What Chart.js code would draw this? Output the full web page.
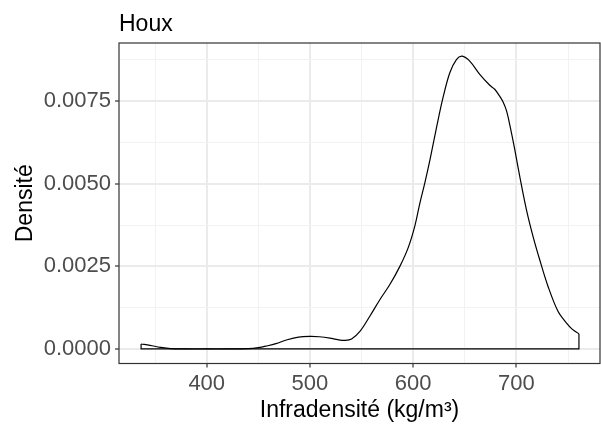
<!DOCTYPE html>
<html><head><meta charset="utf-8">
<script src="https://cdn.jsdelivr.net/npm/chart.js@4.4.0/dist/chart.umd.min.js"></script>
<style>html,body{margin:0;padding:0;background:#fff}#wrap{width:601px;height:426px}</style>
</head><body><div id="wrap"><canvas id="c" width="601" height="426"></canvas></div>
<script>
const chartTitle = "Houx";
const xAxisTitle = "Infradensité (kg/m³)";
const yAxisTitle = "Densité";

const densityX = [336.4, 345, 355, 365, 380, 400, 420, 440, 450, 458, 467, 478, 489, 500, 509, 519.3, 527, 533.8, 540.3, 548.4, 558, 567.7, 577.4, 587.1, 595.1, 601.6, 606.4, 611.3, 616.1, 622.6, 629, 635.5, 641.9, 647.4, 654.8, 664.5, 674.2, 679, 683.8, 687, 690.3, 693.5, 698.4, 703.2, 709.7, 716.1, 722.6, 730.6, 740.3, 748.4, 754, 760.6];
const densityY = [0.00015, 0.00011, 0.00005, 0.00001, 0.0, 0.0, 0.0, 0.00001, 0.00004, 0.00009, 0.00016, 0.00028, 0.00036, 0.00038, 0.00037, 0.00033, 0.00028, 0.00026, 0.0003, 0.00053, 0.00099, 0.00149, 0.00195, 0.0025, 0.00306, 0.00372, 0.0044, 0.00503, 0.0057, 0.0067, 0.00762, 0.00836, 0.00876, 0.00886, 0.00871, 0.00831, 0.00798, 0.00786, 0.00765, 0.00748, 0.00722, 0.0068, 0.00604, 0.00523, 0.00422, 0.00341, 0.0027, 0.0019, 0.00114, 0.00079, 0.0006, 0.00046];

const xMajorTicks = [400, 500, 600, 700];
const xMinorTicks = [350, 450, 550, 650, 750];
const yMajorTicks = [0, 0.0025, 0.005, 0.0075];
const yMinorTicks = [0.00125, 0.00375, 0.00625, 0.00875];

const curvePts = densityX.map((x, i) => ({x: x, y: densityY[i]}));
const n = densityX.length;
const outlinePts = [
  {x: densityX[0], y: densityY[0]},
  {x: densityX[0], y: 0},
  {x: densityX[n - 1], y: 0},
  {x: densityX[n - 1], y: densityY[n - 1]}
];

const FONT = "'Liberation Sans', Arial, sans-serif";
const isMajorX = v => xMajorTicks.some(t => Math.abs(t - v) < 1e-9);
const isMajorY = v => yMajorTicks.some(t => Math.abs(t - v) < 1e-12);

const panelPlugin = {
  id: 'panel',
  afterDraw(chart) {
    const {ctx, chartArea: a} = chart;
    ctx.save();
    ctx.strokeStyle = '#333333';
    ctx.lineWidth = 1.2;
    ctx.strokeRect(a.left, a.top, a.right - a.left, a.bottom - a.top);
    ctx.fillStyle = '#000000';
    ctx.font = '23px ' + FONT;
    ctx.textBaseline = 'alphabetic';
    ctx.textAlign = 'left';
    ctx.fillText(chartTitle, a.left, 31);
    ctx.restore();
  }
};

new Chart(document.getElementById('c'), {
  type: 'scatter',
  data: {
    datasets: [
      {data: curvePts, showLine: true, borderColor: '#000000', borderWidth: 1.2, pointRadius: 0, tension: 0.35, fill: false},
      {data: outlinePts, showLine: true, borderColor: '#000000', borderWidth: 1.2, pointRadius: 0, tension: 0, fill: false}
    ]
  },
  options: {
    responsive: false,
    animation: false,
    devicePixelRatio: 1,
    layout: {padding: {top: 43, right: 1, left: 0, bottom: 0}},
    plugins: {legend: {display: false}, tooltip: {enabled: false}},
    scales: {
      x: {
        type: 'linear', min: 315, max: 781,
        afterBuildTicks: s => { s.ticks = xMajorTicks.concat(xMinorTicks).sort((a, b) => a - b).map(v => ({value: v})); },
        afterFit: s => { s.height = 62.5; },
        ticks: {autoSkip: false, maxRotation: 0, padding: 3, color: '#4D4D4D', font: {family: FONT, size: 22},
          callback: v => isMajorX(v) ? String(v) : ''},
        grid: {
          color: c => isMajorX(c.tick.value) ? '#EBEBEB' : '#F2F2F2',
          lineWidth: c => isMajorX(c.tick.value) ? 2 : 1,
          tickColor: c => isMajorX(c.tick.value) ? '#333333' : 'rgba(0,0,0,0)',
          tickLength: 4, tickWidth: 1.2, drawTicks: true
        },
        border: {display: false},
        title: {display: true, text: xAxisTitle, color: '#000000', font: {family: FONT, size: 23}, padding: {top: 0, bottom: 2}}
      },
      y: {
        type: 'linear', min: -0.00044, max: 0.00926,
        afterBuildTicks: s => { s.ticks = yMajorTicks.concat(yMinorTicks).sort((a, b) => a - b).map(v => ({value: v})); },
        afterFit: s => { s.width = 119; },
        ticks: {autoSkip: false, padding: 4, color: '#4D4D4D', font: {family: FONT, size: 22},
          callback: v => isMajorY(v) ? v.toFixed(4) : ''},
        grid: {
          color: c => isMajorY(c.tick.value) ? '#EBEBEB' : '#F2F2F2',
          lineWidth: c => isMajorY(c.tick.value) ? 2 : 1,
          tickColor: c => isMajorY(c.tick.value) ? '#333333' : 'rgba(0,0,0,0)',
          tickLength: 4, tickWidth: 1.2, drawTicks: true
        },
        border: {display: false},
        title: {display: true, text: yAxisTitle, color: '#000000', font: {family: FONT, size: 23}, padding: {top: 12, bottom: 0}}
      }
    }
  },
  plugins: [panelPlugin]
});
</script></body></html>
